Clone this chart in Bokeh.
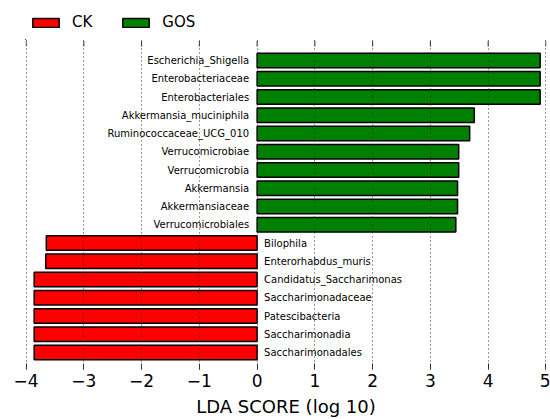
import math
from bokeh.plotting import figure
from bokeh.layouts import column
from bokeh.models import (ColumnDataSource, Range1d, LinearAxis, FixedTicker,
                          CustomJSTickFormatter, Legend, LegendItem, Grid)
from bokeh.core.properties import value
from bokeh.embed import file_html
from bokeh.resources import INLINE

# ---- data (top to bottom) ----
gos_names = ["Escherichia_Shigella", "Enterobacteriaceae", "Enterobacteriales",
             "Akkermansia_muciniphila", "Ruminococcaceae_UCG_010", "Verrucomicrobiae",
             "Verrucomicrobia", "Akkermansia", "Akkermansiaceae", "Verrucomicrobiales"]
gos_lda = [4.90, 4.90, 4.90, 3.76, 3.68, 3.49, 3.49, 3.47, 3.47, 3.44]

ck_names = ["Bilophila", "Enterorhabdus_muris", "Candidatus_Saccharimonas",
            "Saccharimonadaceae", "Patescibacteria", "Saccharimonadia", "Saccharimonadales"]
ck_lda = [3.65, 3.66, 3.86, 3.86, 3.86, 3.86, 3.86]

groups = ["CK", "GOS"]
group_colors = ["#ff0000", "#008000"]

x_ticks = [-4, -3, -2, -1, 0, 1, 2, 3, 4, 5]
FONT = "DejaVu Sans"

n = len(gos_names) + len(ck_names)
gos_y = [n - 1 - i for i in range(len(gos_names))]
ck_y = [len(ck_names) - 1 - i for i in range(len(ck_names))]

gos_src = ColumnDataSource(dict(y=gos_y, v=gos_lda, name=gos_names, zero=[0] * len(gos_y)))
ck_src = ColumnDataSource(dict(y=ck_y, v=[-v for v in ck_lda], name=ck_names, zero=[0] * len(ck_y)))
srcs = [ck_src, gos_src]

# ---------------- legend strip (ranges kept away from the data) ----------------
leg = figure(width=550, height=40, output_backend="svg", toolbar_location=None,
             x_range=Range1d(100, 101), y_range=Range1d(100, 101),
             min_border_left=0, min_border_right=0, min_border_top=0, min_border_bottom=0,
             x_axis_location=None, y_axis_location=None)
leg.outline_line_color = None
leg.xgrid.visible = False
leg.ygrid.visible = False
items = []
for g, c, s in zip(groups, group_colors, srcs):
    r = leg.hbar(y="y", left="v", right="zero", height=0.8, source=s, fill_color=c,
                 line_color="black", line_width=1.5)
    items.append(LegendItem(label=g, renderers=[r]))
legend = Legend(items=items, orientation="horizontal", location=(4, 9),
                glyph_width=33, glyph_height=11, label_text_font=FONT,
                label_text_font_size="15px", label_text_color="black",
                label_standoff=10, spacing=27, padding=0, margin=0,
                border_line_color=None, background_fill_alpha=0)
leg.add_layout(legend)

# ---------------- main chart ----------------
y_top = n - 1 + 1.1
p = figure(width=550, height=379, output_backend="svg", toolbar_location=None,
           x_range=Range1d(-4.01, 5.01), y_range=Range1d(-0.93, y_top),
           min_border_left=25, min_border_right=4, min_border_top=0, min_border_bottom=49,
           x_axis_location=None, y_axis_location=None)
p.outline_line_color = None
p.xgrid.visible = False
p.ygrid.visible = False

p.hbar(y="y", left="v", right="zero", height=0.8, source=ck_src,
       fill_color=group_colors[0], line_color="black", line_width=1.5)
p.hbar(y="y", left="zero", right="v", height=0.8, source=gos_src,
       fill_color=group_colors[1], line_color="black", line_width=1.5)

p.text(x="zero", y="y", text="name", source=gos_src, text_align="right",
       text_baseline="middle", x_offset=-8, text_font=value(FONT),
       text_font_size="10px", text_color="black")
p.text(x="zero", y="y", text="name", source=ck_src, text_align="left",
       text_baseline="middle", x_offset=7, text_font=value(FONT),
       text_font_size="10px", text_color="black")

# top tick marks (inward), drawn at the top edge of the frame
p.ray(x=x_ticks, y=[y_top] * len(x_ticks), length=6, length_units="screen",
      angle=-math.pi / 2, line_color="#333333", line_width=1)

ticker = FixedTicker(ticks=x_ticks)
fmt = CustomJSTickFormatter(code="return tick < 0 ? '\u2212' + Math.abs(tick) : String(tick);")

bottom = LinearAxis(ticker=ticker, formatter=fmt, axis_label="LDA SCORE (log 10)")
bottom.axis_line_color = None
bottom.major_tick_in = 6
bottom.major_tick_out = 0
bottom.major_tick_line_color = "#333333"
bottom.minor_tick_line_color = None
bottom.major_label_text_font = FONT
bottom.major_label_text_font_size = "17px"
bottom.major_label_text_color = "black"
bottom.major_label_standoff = 4
bottom.axis_label_text_font = FONT
bottom.axis_label_text_font_size = "18px"
bottom.axis_label_text_font_style = "normal"
bottom.axis_label_text_color = "black"
bottom.axis_label_standoff = 6
p.add_layout(bottom, "below")

grid = Grid(dimension=0, ticker=ticker, grid_line_color="#333333",
            grid_line_dash="1 3", grid_line_width=1, level="overlay")
p.add_layout(grid)

layout = column(leg, p, spacing=0)
open("out.html", "w").write(file_html(layout, INLINE))
